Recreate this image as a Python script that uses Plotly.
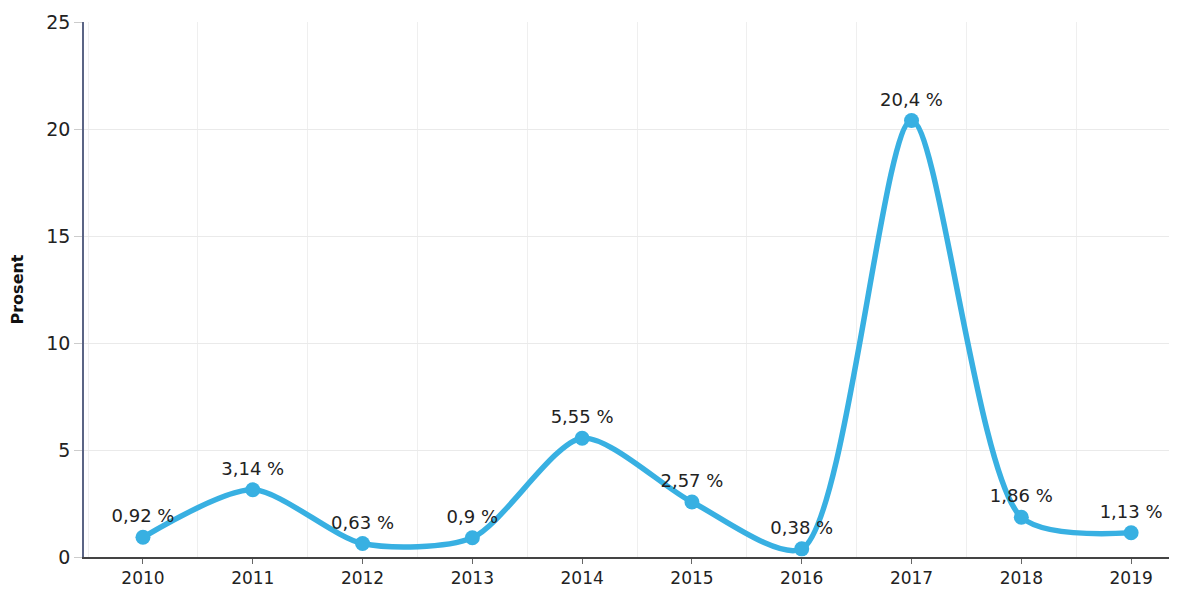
import plotly.graph_objects as go

FONT = 'Verdana, "DejaVu Sans", sans-serif'

years = ['2010', '2011', '2012', '2013', '2014', '2015', '2016', '2017', '2018', '2019']
values = [0.92, 3.14, 0.63, 0.9, 5.55, 2.57, 0.38, 20.4, 1.86, 1.13]
labels = ['0,92 %', '3,14 %', '0,63 %', '0,9 %', '5,55 %', '2,57 %', '0,38 %', '20,4 %', '1,86 %', '1,13 %']
y_ticks = [0, 5, 10, 15, 20, 25]

idx = list(range(len(years)))

fig = go.Figure()
fig.add_trace(go.Scatter(
    x=idx, y=values, mode='lines+markers+text',
    line=dict(color='#38b0e2', width=5.5, shape='spline', smoothing=0.75),
    marker=dict(color='#38b0e2', size=15),
    text=labels, textposition='top center',
    textfont=dict(family=FONT, size=18, color='#222222'),
    cliponaxis=False, showlegend=False))

# page body has an 8px margin, so the figure is sized to fit inside it
fig.update_layout(
    width=1161, height=579, font=dict(family=FONT, color='#222222'),
    plot_bgcolor='white', paper_bgcolor='white',
    margin=dict(l=76, r=0, t=14, b=30),
    xaxis=dict(range=[-0.537, 9.345], tickvals=idx, ticktext=years,
               showgrid=False, zeroline=False, automargin=False,
               showline=True, linecolor='#444444', linewidth=1.5,
               ticks='outside', ticklen=5, tickcolor='#666666',
               tickfont=dict(size=17, color='#222222'),
               minor=dict(tick0=0.5, dtick=1, showgrid=True, gridcolor='#efefef', ticks='')),
    yaxis=dict(range=[0, 25], tickvals=y_ticks, automargin=False,
               showgrid=True, gridcolor='#eaeaea', zeroline=False,
               showline=True, linecolor='#5b6585', linewidth=1.5,
               ticks='outside', ticklen=8, tickcolor='#cccccc',
               tickfont=dict(size=19, color='#222222'),
               title=dict(text='<b>Prosent</b>', font=dict(size=16, color='#111111'), standoff=20)),
)

fig.write_html('out.html')
